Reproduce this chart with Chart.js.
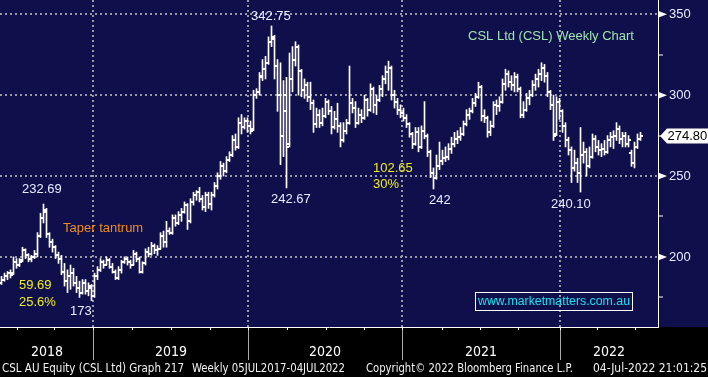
<!DOCTYPE html>
<html><head><meta charset="utf-8">
<script src="https://cdn.jsdelivr.net/npm/chart.js@4.4.0/dist/chart.umd.min.js"></script>
<style>html,body{margin:0;padding:0;background:#000;overflow:hidden}canvas{display:block}</style>
</head><body>
<canvas id="c" width="708" height="377"></canvas>
<script>
// Weekly OHLC, CSL Ltd (visible window mid-2018 .. 04-Jul-2022), index = week number
const openP = [
184,186,188,190,190,197,195,198,204,201,
199,200,202,213,224,228,214,209,206,201,
199,191,185,188,190,184,181,178,184,179,
181,176,188,192,197,195,198,194,191,187,
192,197,199,197,195,202,199,191,196,203,
202,207,204,205,213,209,216,215,224,221,
226,228,232,222,234,238,240,236,231,238,
233,238,244,250,256,253,260,263,272,268,
283,280,284,281,279,300,302,311,316,320,
333,335,318,300,275,290,270,310,322,330,
315,303,306,299,295,282,288,283,287,296,
290,280,285,281,272,278,283,295,292,283,
288,286,297,291,304,294,297,304,310,314,
317,300,296,291,289,286,282,276,270,277,
268,278,275,265,252,249,256,259,261,262,
267,270,273,274,276,282,288,290,295,299,
305,287,286,277,281,294,293,296,307,313,
308,306,311,304,288,291,298,300,306,310,
313,317,312,302,294,276,296,290,281,272,
266,255,258,252,263,265,256,262,273,268,
266,267,265,272,274,275,279,273,275,270,
264,258,268,273];
const highP = [
188,190,191,192,200,199,199,206,205,202,
201,204,215,227,232.69,230,215,211,207,203,
201,196,192,195,193,188,185,186,186,184,
183,190,194,199,198,200,199,196,192,194,
198,200,200,198,204,203,200,197,205,206,
209,208,207,215,216,222,218,226,226,228,
230,234,233,236,240,241,243,238,240,240,
240,246,252,259,258,262,265,275,276,286,
288,286,286,284,303,304,314,322,324,336,
342.75,337,322,320,309,311,326,330,333,331,
316,310,308,308,297,292,291,292,298,297,
293,290,295,283,283,285,318,298,296,292,
291,300,298,307,305,300,306,312,318,321,
318,303,298,294,292,288,283,277,280,280,
281,296,276,266,255,263,271,266,268,270,
274,277,278,280,284,291,292,298,301,308,
306,291,287,284,296,297,299,310,316,315,
312,314,313,305,296,301,303,309,313,316,
320,319,314,303,300,299,298,291,283,274,
268,266,261,280,271,267,268,276,275,272,
270,272,275,277,278,283,281,277,277,275,
266,271,276,277];
const lowP = [
183,185,186,187,189,193,194,197,199,197,
197,199,200,212,221,212,206,203,199,196,
189,182,178,180,182,178,175,177,177,176,
173,175,186,191,193,195,193,190,186,186,
190,196,195,193,195,197,190,190,195,200,
201,202,201,205,206,206,214,214,219,220,
222,227,217,221,232,235,234,229,228,230,
229,237,242,248,250,252,259,262,266,267,
276,279,277,276,278,298,300,309,310,319,
330,310,290,257,262,242.67,268,302,318,300,
299,298,296,291,277,280,280,281,286,288,
276,279,277,268,271,276,282,289,280,282,
283,285,287,290,289,288,296,299,307,303,
297,292,288,286,284,280,274,267,269,265,
267,273,262,249,242,248,254,257,259,260,
264,268,270,272,275,281,285,289,293,298,
284,283,274,275,280,288,290,295,303,305,
303,302,302,286,286,290,294,299,303,305,
309,308,299,291,272,275,285,277,268,263,
246,253,246,240.1,258,250,255,261,265,263,
262,263,264,268,267,272,270,268,268,268,
256,255,267,272];
const closeP = [
186,188,190,189,197,195,197,204,201,199,
200,202,213,224,229,214,209,206,201,199,
191,185,188,190,184,181,178,184,179,182,
176,188,192,197,195,198,194,191,187,192,
197,199,197,195,202,199,191,196,203,202,
207,204,205,213,209,216,215,224,221,226,
228,232,222,234,238,240,236,231,238,233,
238,244,250,256,253,260,263,272,268,283,
280,284,281,278,300,302,312,316,320,333,
336,318,300,275,300,268,310,322,330,315,
303,306,299,295,282,288,283,287,296,290,
280,285,281,272,278,283,295,292,283,288,
286,297,291,304,294,297,304,310,314,317,
300,296,291,289,286,282,276,270,277,268,
278,275,265,252,249,256,259,261,262,267,
270,273,274,276,282,288,290,295,299,305,
287,286,277,281,294,293,296,307,313,308,
306,311,304,288,291,298,300,306,310,313,
317,312,302,294,275,296,290,281,272,266,
255,258,252,263,265,256,262,273,268,266,
267,265,272,274,275,279,273,275,270,272,
258,268,273,274.8];

const yearLabels = ['2018', '2019', '2020', '2021', '2022'];
const yearLabelWeeks = [15.2, 56.5, 107.8, 159.8, 202.5];   // middle of each visible year
const yearStartWeeks = [30.5, 82.2, 133.5, 186.2];          // 1 Jan 2019 .. 2022
const quarterWeeks = [5.1, 17.5, 30.5, 43.5, 56.5, 69.5, 82.2, 95.2, 108.2, 120.8, 133.5, 146.8, 159.5, 172.2, 186.2, 198.5, 211.2];
const priceTicks = [175, 200, 225, 250, 275, 300, 325, 350];
const lastPrice = 274.80;

const NAVY = '#0f0f4b';
const GRID = '#9a9aa6';
const TXT = '#e6edff';
const SANS = '"Liberation Sans", Arial, sans-serif';
const NARROW = '"Liberation Sans Narrow", "Arial Narrow", "DejaVu Sans Condensed", sans-serif';

function tickImg(side) {
  const c = document.createElement('canvas');
  c.width = 5; c.height = 2;
  const g = c.getContext('2d');
  g.fillStyle = '#ffffff';
  if (side === 'open') g.fillRect(0, 0, 3, 2); else g.fillRect(2, 0, 3, 2);
  return c;
}

const annotations = [
  {t: '342.75', x: 251, y: 16, c: TXT},
  {t: '232.69', x: 22, y: 189, c: TXT},
  {t: 'Taper tantrum', x: 63, y: 228, c: '#ee8a22'},
  {t: '59.69', x: 19, y: 285, c: '#eeee22'},
  {t: '25.6%', x: 19, y: 302, c: '#eeee22'},
  {t: '173', x: 70, y: 311, c: TXT},
  {t: '242.67', x: 271, y: 199, c: TXT},
  {t: '102.65', x: 373, y: 168, c: '#eeee22'},
  {t: '30%', x: 373, y: 184, c: '#eeee22'},
  {t: '242', x: 429, y: 200, c: TXT},
  {t: '240.10', x: 551, y: 204, c: TXT},
  {t: 'CSL Ltd (CSL) Weekly Chart', x: 468, y: 36, c: '#9fe3ae'}
];

const deco = {
  id: 'deco',
  beforeDraw(chart) {
    const {ctx, chartArea: a, width, height} = chart;
    ctx.save();
    ctx.fillStyle = NAVY; ctx.fillRect(0, 0, width, height);
    ctx.fillStyle = '#000'; ctx.fillRect(0, a.bottom, width, height - a.bottom);
    ctx.restore();
  },
  afterDraw(chart) {
    const {ctx, chartArea: a, scales} = chart;
    const xs = scales.x, ys = scales.y;
    ctx.save();
    ctx.fillStyle = '#ffffff';
    priceTicks.filter(v => v % 50 === 0).forEach(v => {
      const y = ys.getPixelForValue(v);
      ctx.beginPath();
      ctx.moveTo(a.right, y - 3.5); ctx.lineTo(a.right + 9, y); ctx.lineTo(a.right, y + 3.5);
      ctx.closePath(); ctx.fill();
    });
    const py = ys.getPixelForValue(lastPrice);
    ctx.beginPath();
    ctx.moveTo(a.right + 2, py); ctx.lineTo(a.right + 9, py - 7.5); ctx.lineTo(708, py - 7.5);
    ctx.lineTo(708, py + 7.5); ctx.lineTo(a.right + 9, py + 7.5); ctx.closePath();
    ctx.fillStyle = '#ffffff'; ctx.fill();
    ctx.fillStyle = '#000000'; ctx.font = '13px ' + SANS; ctx.textBaseline = 'middle'; ctx.textAlign = 'left';
    ctx.fillText(lastPrice.toFixed(2), a.right + 9.5, py + 0.5);
    annotations.forEach(n => { ctx.fillStyle = n.c; ctx.fillText(n.t, n.x, n.y); });
    ctx.strokeStyle = '#ffffff'; ctx.lineWidth = 1;
    ctx.strokeRect(475.5, 292.5, 157, 18);
    ctx.fillStyle = '#1fe0f0'; ctx.font = '12.5px ' + SANS;
    ctx.fillText('www.marketmatters.com.au', 478, 302, 152);
    ctx.strokeStyle = '#ffffff';
    quarterWeeks.forEach(w => {
      const x = Math.round(xs.getPixelForValue(w)) + 0.5;
      ctx.beginPath(); ctx.moveTo(x, a.bottom); ctx.lineTo(x, a.bottom + 3); ctx.stroke();
    });
    ctx.strokeStyle = '#a8a8a8';
    yearStartWeeks.forEach(w => {
      const x = Math.round(xs.getPixelForValue(w)) + 0.5;
      ctx.beginPath(); ctx.moveTo(x, a.bottom + 3); ctx.lineTo(x, a.bottom + 33); ctx.stroke();
    });
    ctx.fillStyle = '#f2f2f2'; ctx.font = '12px ' + NARROW;
    ctx.fillText('CSL AU Equity (CSL Ltd) Graph 217', 2, 369, 182);
    ctx.fillText('Weekly 05JUL2017-04JUL2022', 192, 369, 153);
    ctx.fillText('Copyright\u00A9 2022 Bloomberg Finance L.P.', 366, 369, 207);
    ctx.fillText('04-Jul-2022 21:01:25', 593, 369, 114);
    ctx.restore();
  }
};

new Chart(document.getElementById('c'), {
  type: 'bar',
  data: {
    datasets: [
      {
        type: 'bar',
        data: lowP.map((l, i) => ({x: i, y: [l, highP[i]]})),
        backgroundColor: '#ffffff', borderWidth: 0, barThickness: 1, grouped: false, order: 3
      },
      {
        type: 'line', showLine: false,
        data: openP.map((v, i) => ({x: i, y: v})),
        pointStyle: tickImg('open'), pointRadius: 1, pointHoverRadius: 1, pointBorderWidth: 0, order: 2
      },
      {
        type: 'line', showLine: false,
        data: closeP.map((v, i) => ({x: i, y: v})),
        pointStyle: tickImg('close'), pointRadius: 1, pointHoverRadius: 1, pointBorderWidth: 0, order: 1
      }
    ]
  },
  options: {
    responsive: false, animation: false, events: [],
    layout: {padding: 0, autoPadding: false},
    plugins: {legend: {display: false}, tooltip: {enabled: false}},
    scales: {
      x: {
        type: 'linear', min: -0.5, max: 218.83, offset: false,
        afterBuildTicks: s => { s.ticks = yearStartWeeks.concat(yearLabelWeeks).sort((p, q) => p - q).map(v => ({value: v})); },
        afterFit: s => { s.height = 50; s.paddingLeft = 0; s.paddingRight = 0; },
        grid: {
          offset: false,
          color: c => (c.tick && yearStartWeeks.includes(c.tick.value)) ? GRID : 'rgba(0,0,0,0)',
          lineWidth: 2, drawTicks: false
        },
        border: {display: true, color: '#ffffff', width: 1, dash: [2, 3]},
        ticks: {
          autoSkip: false, maxRotation: 0, padding: 17, color: '#ffffff',
          font: {family: NARROW, size: 14},
          callback: v => { const k = yearLabelWeeks.indexOf(v); return k >= 0 ? yearLabels[k] : ''; }
        }
      },
      y: {
        type: 'linear', position: 'right', min: 156.7, max: 358.8,
        afterBuildTicks: s => { s.ticks = priceTicks.map(v => ({value: v})); },
        afterFit: s => { s.width = 50; s.paddingTop = 0; s.paddingBottom = 0; },
        grid: {
          color: c => (c.tick && c.tick.value % 50 === 0) ? GRID : 'rgba(0,0,0,0)',
          lineWidth: 2,
          tickColor: c => (c.tick && c.tick.value % 50 !== 0) ? '#ffffff' : 'rgba(0,0,0,0)',
          tickLength: 5, tickWidth: 1
        },
        border: {display: true, color: '#ffffff', width: 1, dash: [2, 3]},
        ticks: {
          padding: 6, color: TXT, font: {family: SANS, size: 13},
          callback: v => (v % 50 === 0 ? String(v) : '')
        }
      }
    }
  },
  plugins: [deco]
});
</script>
</body></html>
